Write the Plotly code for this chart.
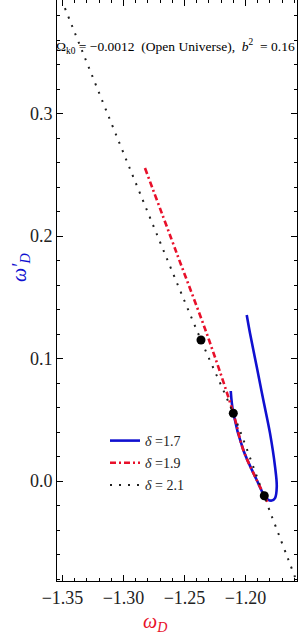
import plotly.graph_objects as go

# delta = 1.7 (blue, solid)
blue_x = [-1.2121, -1.2100, -1.2018, -1.1908, -1.1846, -1.1816, -1.1785, -1.1758, -1.1744,
          -1.1758, -1.1799, -1.1854, -1.1908, -1.1963, -1.1990]
blue_y = [0.0735, 0.0555, 0.0253, 0.0008, -0.0120, -0.0151, -0.0159, -0.0139, -0.0047,
          0.0117, 0.0389, 0.0661, 0.0933, 0.1206, 0.1355]

# delta = 1.9 (red, dash-dot)
red_x = [-1.2824, -1.2560, -1.2299, -1.2100, -1.2018, -1.1908, -1.1846, -1.1816]
red_y = [0.2555, 0.1850, 0.1151, 0.0555, 0.0253, 0.0008, -0.0120, -0.0180]

# delta = 2.1 (black, dotted)
black_x = [-1.3480, -1.2943, -1.2365, -1.2102, -1.1848, -1.1594]
black_y = [0.3860, 0.2539, 0.1151, 0.0555, -0.0122, -0.0784]

# present-day points
pt_x = [-1.2365, -1.2100, -1.1846]
pt_y = [0.1151, 0.0553, -0.0120]

legend_names = ["<i>δ</i> =1.7", "<i>δ</i> =1.9", "<i>δ</i> = 2.1"]

fig = go.Figure()
fig.add_trace(go.Scatter(x=blue_x, y=blue_y, mode="lines", name=legend_names[0],
                         line=dict(color="#1010d0", width=2.6), line_shape="spline",
                         legendgroup="a"))
fig.add_trace(go.Scatter(x=red_x, y=red_y, mode="lines", name=legend_names[1],
                         line=dict(color="#e8102a", width=2.6, dash="6px,3px,2px,3px"),
                         line_shape="spline", legendgroup="b"))
fig.add_trace(go.Scatter(x=black_x, y=black_y, mode="lines", name=legend_names[2],
                         line=dict(color="#202020", width=2, dash="2px,7px"),
                         line_shape="spline", legendgroup="c"))
fig.add_trace(go.Scatter(x=pt_x, y=pt_y, mode="markers", showlegend=False,
                         marker=dict(color="black", size=9)))

axis_common = dict(showgrid=False, zeroline=False, showline=True, linecolor="black",
                   linewidth=1, mirror="ticks", ticks="inside", ticklen=6,
                   tickcolor="black", automargin=False,
                   tickfont=dict(family="Liberation Serif", size=18, color="#222"))

fig.update_xaxes(range=[-1.3545, -1.1578], dtick=0.05, tick0=-1.35,
                 tickformat=".2f",
                 minor=dict(dtick=0.01, ticks="inside", ticklen=3, tickcolor="black"),
                 **axis_common)
fig.update_yaxes(range=[-0.0816, 0.3927], dtick=0.1, tick0=0,
                 tickformat=".1f",
                 minor=dict(dtick=0.02, ticks="inside", ticklen=3, tickcolor="black"),
                 **axis_common)

# axis titles
fig.add_annotation(xref="paper", yref="paper", x=(155 - 57) / 240, y=-(622 - 581) / 581,
                   xanchor="center", yanchor="middle", showarrow=False,
                   text="<i>ω<sub>D</sub></i>",
                   font=dict(family="Liberation Serif", size=20, color="#e8102a"))
fig.add_annotation(xref="paper", yref="paper", x=-(57 - 20) / 240, y=(581 - 268) / 581,
                   xanchor="center", yanchor="middle", showarrow=False, textangle=-90,
                   text="<i>ω′<sub>D</sub></i>",
                   font=dict(family="Liberation Serif", size=20, color="#1010d0"))

fig.add_annotation(xref="paper", yref="paper", x=0.0, y=(581 - 47) / 581, xshift=-3,
                   xanchor="left", yanchor="middle", showarrow=False,
                   text="Ω<sub>k0</sub> = −0.0012  (Open Universe),  <i>b</i><sup>2</sup>  = 0.16",
                   font=dict(family="Liberation Serif", size=13.5, color="black"))

fig.update_layout(width=300, height=636, margin=dict(l=57, r=3, t=0, b=55),
                  plot_bgcolor="white", paper_bgcolor="white",
                  showlegend=True,
                  legend=dict(x=0.2, y=(581 - 425) / 581, xanchor="left", yanchor="top",
                              bgcolor="rgba(0,0,0,0)", tracegroupgap=1, itemwidth=30,
                              font=dict(family="Liberation Serif", size=14, color="#222")))

fig.write_html("out.html", config={"displayModeBar": False},
               post_script="document.body.style.margin='0';document.body.style.overflow='hidden';")
